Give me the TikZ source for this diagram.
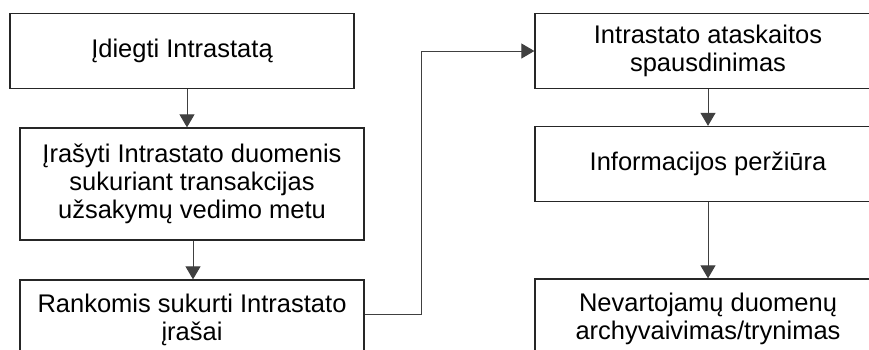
\documentclass[tikz,border=0pt]{standalone}
\usepackage{fontspec}
\setmainfont{Liberation Sans}
\usetikzlibrary{arrows.meta}
\begin{document}
\begin{tikzpicture}[x=1pt,y=-1pt,
  stepbox/.style={draw=black!85, line width=1.3pt, rectangle, inner sep=0pt,
    align=center, font=\fontsize{25.5}{28}\selectfont},
  wide/.style={minimum width=344pt},
  link/.style={draw=black!75, line width=1pt, -{Triangle[length=13pt,width=15pt]}}]
\useasboundingbox (0,0) rectangle (869,349);

% left column
\node[stepbox, wide, minimum height=75pt]  (a) at (182,51) {Įdiegti Intrastatą};
\node[stepbox, wide, minimum height=112pt] (b) at (192,184)
  {Įrašyti Intrastato duomenis\\sukuriant transakcijas\\užsakymų vedimo metu};
\node[stepbox, wide, minimum height=80pt]  (c) at (192,320)
  {Rankomis sukurti Intrastato\\įrašai};

% right column
\node[stepbox, minimum width=346pt, minimum height=75pt] (d) at (708,51)
  {Intrastato ataskaitos\\spausdinimas};
\node[stepbox, minimum width=346pt, minimum height=75pt] (e) at (708,164)
  {Informacijos peržiūra};
\node[stepbox, minimum width=346pt, minimum height=80pt] (f) at (708,319)
  {Nevartojamų duomenų\\archyvaivimas/trynimas};

\coordinate (bend) at (421,51);

% connectors
\draw[link] ([xshift=5pt]a.south) -- ([xshift=-5pt]b.north);
\draw[link] ([xshift=1pt]b.south) -- ([xshift=1pt]c.north);
\draw[link] ([yshift=6pt]c.east) -| (bend) -- (d.west);
\draw[link] (d.south) -- (e.north);
\draw[link] (e.south) -- (f.north);
\end{tikzpicture}
\end{document}
